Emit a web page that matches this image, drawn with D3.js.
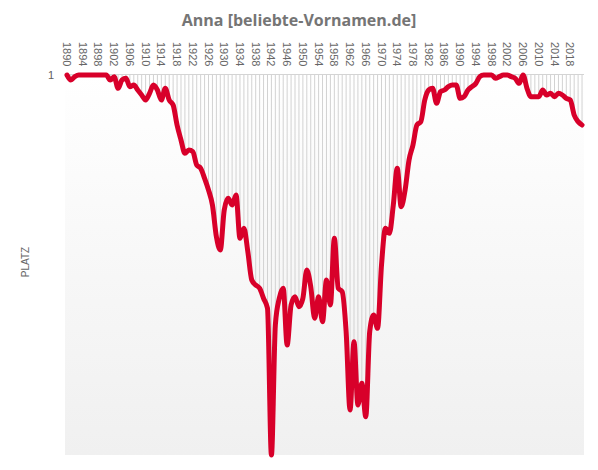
<!DOCTYPE html>
<html>
<head>
<meta charset="utf-8">
<script src="https://cdn.jsdelivr.net/npm/d3@7"></script>
<style>
  html, body { margin: 0; padding: 0; background: #fff; }
  svg { display: block; }
</style>
</head>
<body>
<svg id="chart" width="598" height="470"></svg>
<script>
const years = [
  1890,1891,1892,1893,1894,1895,1896,1897,1898,1899,
  1900,1901,1902,1903,1904,1905,1906,1907,1908,1909,
  1910,1911,1912,1913,1914,1915,1916,1917,1918,1919,
  1920,1921,1922,1923,1924,1925,1926,1927,1928,1929,
  1930,1931,1932,1933,1934,1935,1936,1937,1938,1939,
  1940,1941,1942,1943,1944,1945,1946,1947,1948,1949,
  1950,1951,1952,1953,1954,1955,1956,1957,1958,1959,
  1960,1961,1962,1963,1964,1965,1966,1967,1968,1969,
  1970,1971,1972,1973,1974,1975,1976,1977,1978,1979,
  1980,1981,1982,1983,1984,1985,1986,1987,1988,1989,
  1990,1991,1992,1993,1994,1995,1996,1997,1998,1999,
  2000,2001,2002,2003,2004,2005,2006,2007,2008,2009,
  2010,2011,2012,2013,2014,2015,2016,2017,2018,2019,
  2020,2021
];
const ranks = [
  1,4,2,1,1,1,1,1,1,1,
  1,4,2,9,4,3,8,7,10,13,
  16,12,7,10,16,9,16,19,31,40,
  48,46,47,55,57,63,70,79,98,106,
  82,75,79,73,99,93,107,124,127,129,
  135,141,229,151,135,129,163,139,134,140,
  135,118,128,147,134,149,124,139,99,129,
  131,155,202,161,199,186,206,155,145,153,
  115,93,96,79,57,80,70,52,43,31,
  29,16,10,9,18,11,10,8,7,7,
  15,14,10,8,6,2,1,1,1,3,
  2,1,1,2,3,6,1,9,14,14,
  14,10,13,12,14,12,13,15,16,25,
  29,31
];
const tickYears = [1890,1894,1898,1902,1906,1910,1914,1918,1922,1926,1930,1934,1938,1942,1946,1950,1954,1958,1962,1966,1970,1974,1978,1982,1986,1990,1994,1998,2002,2006,2010,2014,2018];
const yTickLabels = ["1"];
const titleText = "Anna [beliebte-Vornamen.de]";
const yAxisTitle = "PLATZ";

const data = years.map((y, i) => ({ year: y, rank: ranks[i] }));

const svg = d3.select("#chart");
const plot = { left: 65, right: 584, top: 74, bottom: 455 };

const x = d3.scalePoint().domain(years).range([plot.left, plot.right]).padding(0.5);
const y = d3.scaleLinear().domain([1, d3.max(ranks)]).range([plot.top + 1, plot.bottom]);

// background gradient
const defs = svg.append("defs");
const grad = defs.append("linearGradient").attr("id", "bg").attr("x1", 0).attr("y1", 0).attr("x2", 0).attr("y2", 1);
grad.append("stop").attr("offset", "0%").attr("stop-color", "#ffffff");
grad.append("stop").attr("offset", "100%").attr("stop-color", "#f0f0f0");

svg.append("rect")
  .attr("x", plot.left).attr("y", plot.top)
  .attr("width", plot.right - plot.left).attr("height", plot.bottom - plot.top)
  .attr("fill", "url(#bg)");

// drop lines from top to each value
svg.append("g").selectAll("line").data(data).join("line")
  .attr("x1", d => x(d.year)).attr("x2", d => x(d.year))
  .attr("y1", plot.top).attr("y2", d => y(d.rank))
  .attr("stroke", "#d2d2d2").attr("stroke-width", 1);

// top line
svg.append("line")
  .attr("x1", plot.left).attr("x2", plot.right)
  .attr("y1", plot.top + 0.5).attr("y2", plot.top + 0.5)
  .attr("stroke", "#d4d4d4").attr("stroke-width", 1);

// line
const line = d3.line().x(d => x(d.year)).y(d => y(d.rank)).curve(d3.curveMonotoneX);
svg.append("path").datum(data)
  .attr("d", line)
  .attr("fill", "none")
  .attr("stroke", "#d8002a")
  .attr("stroke-width", 5)
  .attr("stroke-linejoin", "round")
  .attr("stroke-linecap", "round");

// x tick labels (top, rotated)
svg.append("g").selectAll("text").data(tickYears).join("text")
  .attr("transform", d => `translate(${x(d) - 4},42) rotate(90)`)
  .attr("text-anchor", "start")
  .attr("font-family", "'Liberation Sans', Arial, sans-serif")
  .attr("font-size", 11)
  .attr("fill", "#666")
  .text(d => d);

// y tick label
svg.append("g").selectAll("text").data(yTickLabels).join("text")
  .attr("x", 54).attr("y", y(1) + 4)
  .attr("text-anchor", "end")
  .attr("font-family", "'Liberation Sans', Arial, sans-serif")
  .attr("font-size", 11)
  .attr("fill", "#606060")
  .text(d => d);

// y axis title
svg.append("text")
  .attr("transform", `translate(29,262) rotate(-90)`)
  .attr("text-anchor", "middle")
  .attr("font-family", "'Liberation Sans', Arial, sans-serif")
  .attr("font-size", 10)
  .attr("fill", "#666")
  .text(yAxisTitle);

// title
svg.append("text")
  .attr("x", 299).attr("y", 26)
  .attr("text-anchor", "middle")
  .attr("font-family", "'Open Sans', sans-serif")
  .attr("font-weight", "bold")
  .attr("font-size", 16)
  .attr("fill", "#757575")
  .text(titleText);
</script>
</body>
</html>
